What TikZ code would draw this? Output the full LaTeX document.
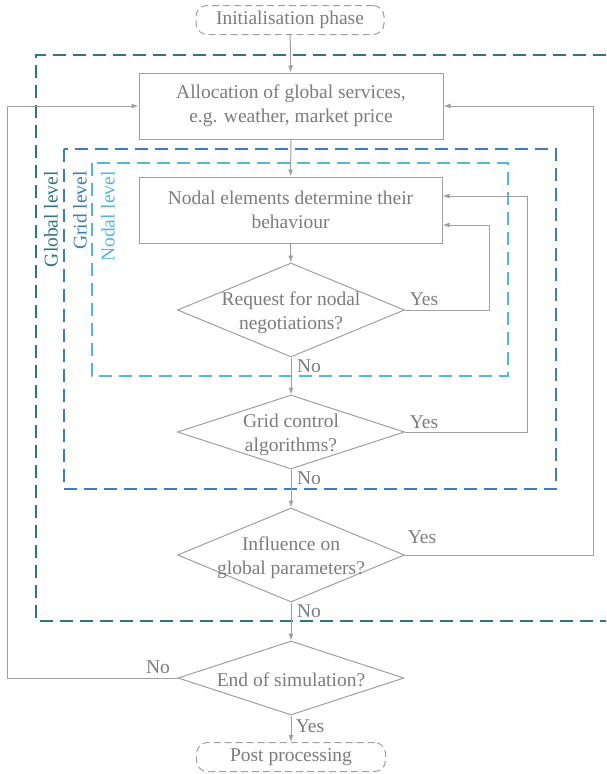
\documentclass[tikz,border=0pt]{standalone}
\usepackage{fontspec}
\setmainfont{Liberation Serif}
\usetikzlibrary{shapes.geometric,arrows.meta}
\definecolor{linegrey}{HTML}{A0A0A0}
\definecolor{textgrey}{HTML}{7C7C7C}
\definecolor{globalcol}{HTML}{2E7585}
\definecolor{gridcol}{HTML}{3A7EBF}
\definecolor{nodalcol}{HTML}{52B9D6}
\tikzset{
  every node/.style={font=\fontsize{19.5}{24}\selectfont, text=textgrey},
  procbox/.style={draw=linegrey, line width=1pt, rectangle, align=center, inner sep=0pt},
  termbox/.style={draw=linegrey, line width=1pt, rectangle, rounded corners=11pt,
    dash pattern=on 7pt off 4pt, align=center, inner sep=0pt},
  decbox/.style={draw=linegrey, line width=1pt, diamond, inner sep=0pt},
  dectext/.style={align=center, inner sep=0pt},
  flow/.style={draw=linegrey, line width=1pt, -{Latex[length=7pt,width=5pt]}},
  levelframe/.style={line width=1.8pt, dash pattern=on 13pt off 7pt},
  levellabel/.style={rotate=90, anchor=east, inner sep=0pt},
  branch/.style={inner sep=0pt}
}
\begin{document}
\begin{tikzpicture}[x=1pt,y=-1pt]
\useasboundingbox (0,0) rectangle (606,774);

% level frames
\draw[levelframe, draw=globalcol] (606,55) -- (36,55) -- (36,621) -- (606,621);
\draw[levelframe, draw=gridcol] (64,149) rectangle (556,489);
\draw[levelframe, draw=nodalcol] (92,163) rectangle (508,376);

\node[levellabel, text=globalcol] (lglobal) at (51,171) {Global level};
\node[levellabel, text=gridcol] (lgrid) at (80,171) {Grid level};
\node[levellabel, text=nodalcol] (lnodal) at (108,171) {Nodal level};

% flow elements
\node[termbox, minimum width=188, minimum height=29] (init) at (290,20) {Initialisation phase};
\node[procbox, minimum width=304, minimum height=66] (alloc) at (291,106)
  {Allocation of global services,\\e.g. weather, market price};
\node[procbox, minimum width=303, minimum height=66] (nodal) at (290.5,210)
  {Nodal elements determine their\\behaviour};
\node[decbox, minimum width=227, minimum height=94] (d1) at (291,310) {};
\node[dectext] at (291,313) {Request for nodal\\negotiations?};
\node[decbox, minimum width=227, minimum height=74] (d2) at (291,432) {};
\node[dectext] at (291,435) {Grid control\\algorithms?};
\node[decbox, minimum width=227, minimum height=94] (d3) at (291,555) {};
\node[dectext] at (291,558) {Influence on\\global parameters?};
\node[decbox, minimum width=226, minimum height=74] (d4) at (291,678) {};
\node[dectext] at (291,680) {End of simulation?};
\node[termbox, minimum width=189, minimum height=29] (post) at (291,757) {Post processing};

% return points of the loops
\coordinate (r1) at (489,225);
\coordinate (r2) at (527,196);
\coordinate (r3) at (593,106);
\coordinate (r4) at (7,106);

% main flow
\draw[flow] (init) -- (alloc);
\draw[flow] (alloc) -- (nodal);
\draw[flow] (nodal) -- (d1);
\draw[flow] (d1.south) -- (d2.north);
\draw[flow] (d2.south) -- (d3.north);
\draw[flow] (d3.south) -- (d4.north);
\draw[flow] (d4.south) -- (post.north);

% loops
\draw[flow] (d1.east) -| (r1) -- (r1 -| nodal.east);
\draw[flow] (d2.east) -| (r2) -- (r2 -| nodal.east);
\draw[flow] (d3.east) -| (r3) -- (alloc.east);
\draw[flow] (d4.west) -| (r4) -- (alloc.west);

% branch labels
\node[branch] (y1) at (424,299) {Yes};
\node[branch] (y2) at (424,422) {Yes};
\node[branch] (y3) at (422,537) {Yes};
\node[branch] (y4) at (310,726) {Yes};
\node[branch] (n1) at (309,366) {No};
\node[branch] (n2) at (309,478) {No};
\node[branch] (n3) at (309,611) {No};
\node[branch] (n4) at (158,667) {No};
\end{tikzpicture}
\end{document}
